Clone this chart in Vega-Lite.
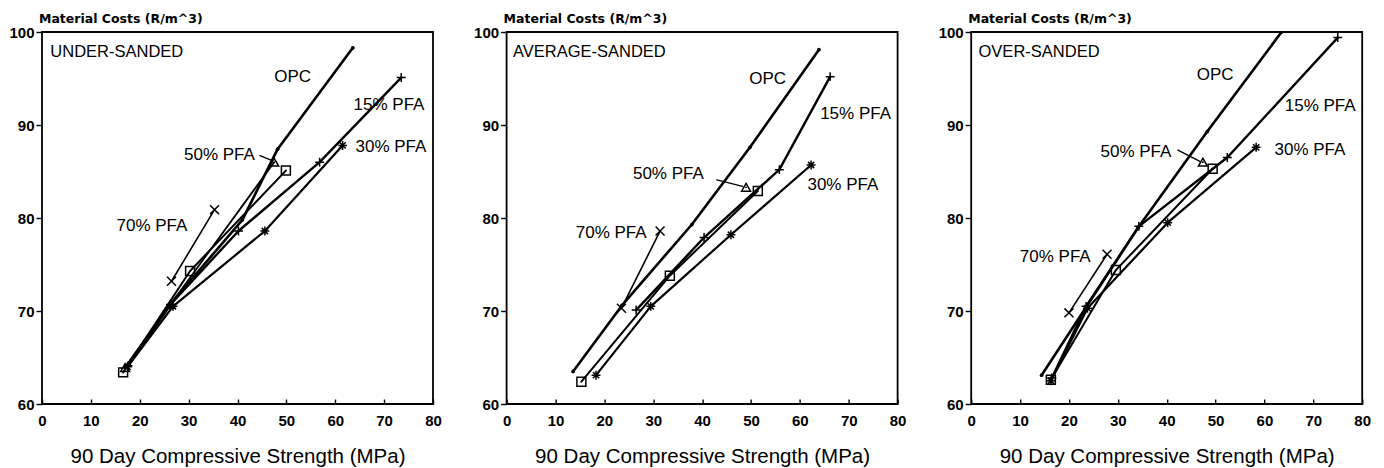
{
"$schema":"https://vega.github.io/schema/vega-lite/v6.json",
"background":"white",
"padding":{"left":8,"top":11,"right":5,"bottom":2},
"config":{
 "font":"Liberation Sans",
 "view":{"stroke":"black","strokeWidth":1.8},
 "axis":{"domain":false,"grid":false,"labelColor":"black","tickColor":"black","tickWidth":1.4,"labelFont":"Liberation Sans","labelFontWeight":"bold","labelFontSize":15,"titleColor":"black","labelOverlap":false}
},
"data":{"values":[
{"panel":"UNDER-SANDED","kind":"pt","series":"OPC","x":17.3,"y":64.1},
{"panel":"UNDER-SANDED","kind":"pt","series":"OPC","x":26.5,"y":70.9},
{"panel":"UNDER-SANDED","kind":"pt","series":"OPC","x":41.0,"y":79.8},
{"panel":"UNDER-SANDED","kind":"pt","series":"OPC","x":48.2,"y":87.4},
{"panel":"UNDER-SANDED","kind":"pt","series":"OPC","x":63.6,"y":98.3},
{"panel":"UNDER-SANDED","kind":"pt","series":"15% PFA","x":17.6,"y":64.1},
{"panel":"UNDER-SANDED","kind":"pt","series":"15% PFA","x":26.3,"y":70.7},
{"panel":"UNDER-SANDED","kind":"pt","series":"15% PFA","x":40.2,"y":78.6},
{"panel":"UNDER-SANDED","kind":"pt","series":"15% PFA","x":56.8,"y":86.0},
{"panel":"UNDER-SANDED","kind":"pt","series":"15% PFA","x":73.5,"y":95.1},
{"panel":"UNDER-SANDED","kind":"pt","series":"30% PFA","x":17.5,"y":64.0},
{"panel":"UNDER-SANDED","kind":"pt","series":"30% PFA","x":26.8,"y":70.5},
{"panel":"UNDER-SANDED","kind":"pt","series":"30% PFA","x":45.6,"y":78.6},
{"panel":"UNDER-SANDED","kind":"pt","series":"30% PFA","x":61.5,"y":87.8},
{"panel":"UNDER-SANDED","kind":"pt","series":"40% PFA","x":16.6,"y":63.4},
{"panel":"UNDER-SANDED","kind":"pt","series":"40% PFA","x":30.3,"y":74.3},
{"panel":"UNDER-SANDED","kind":"pt","series":"40% PFA","x":49.9,"y":85.1},
{"panel":"UNDER-SANDED","kind":"pt","series":"50% PFA","x":17.0,"y":63.9},
{"panel":"UNDER-SANDED","kind":"pt","series":"50% PFA","x":26.3,"y":70.7},
{"panel":"UNDER-SANDED","kind":"pt","series":"50% PFA","x":47.5,"y":86.0},
{"panel":"UNDER-SANDED","kind":"pt","series":"70% PFA","x":26.5,"y":73.2},
{"panel":"UNDER-SANDED","kind":"pt","series":"70% PFA","x":35.3,"y":80.9},
{"panel":"UNDER-SANDED","kind":"pt","series":"pointer","x":44.6,"y":86.7},
{"panel":"UNDER-SANDED","kind":"pt","series":"pointer","x":47.0,"y":86.2},
{"panel":"UNDER-SANDED","kind":"name","text":"UNDER-SANDED","x":1.7,"y":97.8},
{"panel":"UNDER-SANDED","kind":"label","text":"OPC","x":51.3,"y":95.2},
{"panel":"UNDER-SANDED","kind":"label","text":"15% PFA","x":71.0,"y":92.2},
{"panel":"UNDER-SANDED","kind":"label","text":"30% PFA","x":71.4,"y":87.6},
{"panel":"UNDER-SANDED","kind":"label","text":"50% PFA","x":36.3,"y":86.8},
{"panel":"UNDER-SANDED","kind":"label","text":"70% PFA","x":22.5,"y":79.1},

{"panel":"AVERAGE-SANDED","kind":"pt","series":"OPC","x":13.6,"y":63.5},
{"panel":"AVERAGE-SANDED","kind":"pt","series":"OPC","x":23.6,"y":70.6},
{"panel":"AVERAGE-SANDED","kind":"pt","series":"OPC","x":37.9,"y":79.3},
{"panel":"AVERAGE-SANDED","kind":"pt","series":"OPC","x":49.8,"y":87.6},
{"panel":"AVERAGE-SANDED","kind":"pt","series":"OPC","x":63.9,"y":98.1},
{"panel":"AVERAGE-SANDED","kind":"pt","series":"15% PFA","x":26.5,"y":70.1},
{"panel":"AVERAGE-SANDED","kind":"pt","series":"15% PFA","x":40.4,"y":77.9},
{"panel":"AVERAGE-SANDED","kind":"pt","series":"15% PFA","x":55.8,"y":85.2},
{"panel":"AVERAGE-SANDED","kind":"pt","series":"15% PFA","x":66.2,"y":95.2},
{"panel":"AVERAGE-SANDED","kind":"pt","series":"30% PFA","x":18.3,"y":63.1},
{"panel":"AVERAGE-SANDED","kind":"pt","series":"30% PFA","x":29.5,"y":70.5},
{"panel":"AVERAGE-SANDED","kind":"pt","series":"30% PFA","x":45.9,"y":78.2},
{"panel":"AVERAGE-SANDED","kind":"pt","series":"30% PFA","x":62.3,"y":85.7},
{"panel":"AVERAGE-SANDED","kind":"pt","series":"40% PFA","x":15.3,"y":62.4},
{"panel":"AVERAGE-SANDED","kind":"pt","series":"40% PFA","x":33.4,"y":73.8},
{"panel":"AVERAGE-SANDED","kind":"pt","series":"40% PFA","x":51.4,"y":82.9},
{"panel":"AVERAGE-SANDED","kind":"pt","series":"50% PFA","x":49.0,"y":83.3},
{"panel":"AVERAGE-SANDED","kind":"pt","series":"70% PFA","x":23.5,"y":70.3},
{"panel":"AVERAGE-SANDED","kind":"pt","series":"70% PFA","x":31.4,"y":78.6},
{"panel":"AVERAGE-SANDED","kind":"pt","series":"pointer","x":43.0,"y":84.1},
{"panel":"AVERAGE-SANDED","kind":"pt","series":"pointer","x":48.3,"y":83.4},
{"panel":"AVERAGE-SANDED","kind":"name","text":"AVERAGE-SANDED","x":1.3,"y":97.8},
{"panel":"AVERAGE-SANDED","kind":"label","text":"OPC","x":53.4,"y":95.0},
{"panel":"AVERAGE-SANDED","kind":"label","text":"15% PFA","x":71.4,"y":91.2},
{"panel":"AVERAGE-SANDED","kind":"label","text":"30% PFA","x":68.8,"y":83.5},
{"panel":"AVERAGE-SANDED","kind":"label","text":"50% PFA","x":33.1,"y":84.7},
{"panel":"AVERAGE-SANDED","kind":"label","text":"70% PFA","x":21.4,"y":78.4},

{"panel":"OVER-SANDED","kind":"pt","series":"OPC","x":14.4,"y":63.1},
{"panel":"OVER-SANDED","kind":"pt","series":"OPC","x":34.2,"y":79.0},
{"panel":"OVER-SANDED","kind":"pt","series":"OPC","x":48.3,"y":89.3},
{"panel":"OVER-SANDED","kind":"pt","series":"OPC","x":63.5,"y":100.0},
{"panel":"OVER-SANDED","kind":"pt","series":"15% PFA","x":16.5,"y":62.8},
{"panel":"OVER-SANDED","kind":"pt","series":"15% PFA","x":23.5,"y":70.5},
{"panel":"OVER-SANDED","kind":"pt","series":"15% PFA","x":34.3,"y":79.1},
{"panel":"OVER-SANDED","kind":"pt","series":"15% PFA","x":52.4,"y":86.5},
{"panel":"OVER-SANDED","kind":"pt","series":"15% PFA","x":75.0,"y":99.4},
{"panel":"OVER-SANDED","kind":"pt","series":"30% PFA","x":16.3,"y":62.5},
{"panel":"OVER-SANDED","kind":"pt","series":"30% PFA","x":23.8,"y":70.3},
{"panel":"OVER-SANDED","kind":"pt","series":"30% PFA","x":40.2,"y":79.5},
{"panel":"OVER-SANDED","kind":"pt","series":"30% PFA","x":58.3,"y":87.6},
{"panel":"OVER-SANDED","kind":"pt","series":"40% PFA","x":16.3,"y":62.6},
{"panel":"OVER-SANDED","kind":"pt","series":"40% PFA","x":29.6,"y":74.4},
{"panel":"OVER-SANDED","kind":"pt","series":"40% PFA","x":49.4,"y":85.3},
{"panel":"OVER-SANDED","kind":"pt","series":"50% PFA","x":47.4,"y":86.0},
{"panel":"OVER-SANDED","kind":"pt","series":"70% PFA","x":20.0,"y":69.8},
{"panel":"OVER-SANDED","kind":"pt","series":"70% PFA","x":27.8,"y":76.1},
{"panel":"OVER-SANDED","kind":"pt","series":"pointer","x":42.3,"y":87.3},
{"panel":"OVER-SANDED","kind":"pt","series":"pointer","x":46.8,"y":86.1},
{"panel":"OVER-SANDED","kind":"name","text":"OVER-SANDED","x":1.5,"y":97.8},
{"panel":"OVER-SANDED","kind":"label","text":"OPC","x":49.9,"y":95.4},
{"panel":"OVER-SANDED","kind":"label","text":"15% PFA","x":71.4,"y":92.0},
{"panel":"OVER-SANDED","kind":"label","text":"30% PFA","x":69.3,"y":87.3},
{"panel":"OVER-SANDED","kind":"label","text":"50% PFA","x":33.7,"y":87.1},
{"panel":"OVER-SANDED","kind":"label","text":"70% PFA","x":17.2,"y":75.8}
]},
"facet":{"column":{"field":"panel","type":"nominal","sort":["UNDER-SANDED","AVERAGE-SANDED","OVER-SANDED"],"header":{"title":null,"labels":false}}},
"spacing":73.6,
"bounds":"flush",
"resolve":{"scale":{"x":"independent","y":"independent"}},
"spec":{
 "width":391,"height":372,
 "encoding":{
  "x":{"field":"x","type":"quantitative","scale":{"domain":[0,80],"nice":false,"zero":false},
   "axis":{"values":[0,10,20,30,40,50,60,70,80],"tickSize":-5,"labelPadding":14,"labelFlush":false,
    "title":"90 Day Compressive Strength (MPa)","titleFont":"Liberation Sans","titleFontSize":20.5,"titleFontWeight":"normal","titlePadding":18}},
  "y":{"field":"y","type":"quantitative","scale":{"domain":[60,100],"nice":false,"zero":false},
   "axis":{"values":[60,70,80,90,100],"tickSize":6,"labelPadding":2,"labelFlush":false,
    "title":"Material Costs (R/m^3)","titleAngle":0,"titleAlign":"left","titleBaseline":"middle","titleX":-3.5,"titleY":-14,
    "titleFont":"DejaVu Sans","titleFontSize":12.5,"titleFontWeight":"bold"}}
 },
 "layer":[
  {"transform":[{"filter":{"field":"kind","equal":"pt"}}],
   "mark":{"type":"line","color":"black","clip":true,"strokeCap":"round","strokeJoin":"round"},
   "encoding":{"detail":{"field":"series","type":"nominal"},
    "strokeWidth":{"field":"series","type":"nominal","legend":null,
     "scale":{"domain":["OPC","15% PFA","30% PFA","40% PFA","50% PFA","70% PFA","pointer"],"range":[2.6,1.4,1.4,1.4,1.4,1.4,3.6]}}}},
  {"transform":[{"filter":"datum.kind === 'pt' && datum.series === 'OPC'"}],
   "mark":{"type":"point","filled":true,"color":"black","size":14,"opacity":1,"clip":true}},
  {"transform":[{"filter":"datum.kind === 'pt' && datum.series !== 'OPC' && datum.series !== 'pointer'"}],
   "mark":{"type":"point","filled":false,"color":"black","strokeWidth":1.5,"opacity":1},
   "encoding":{
    "shape":{"field":"series","type":"nominal","legend":null,
     "scale":{"domain":["15% PFA","30% PFA","40% PFA","50% PFA","70% PFA"],
      "range":["M-1,0H1M0,-1V1","M-1,0H1M0,-1V1M-0.7,-0.7L0.7,0.7M-0.7,0.7L0.7,-0.7","square","triangle-up","M-1,-1L1,1M-1,1L1,-1"]}},
    "size":{"field":"series","type":"nominal","legend":null,
     "scale":{"domain":["15% PFA","30% PFA","40% PFA","50% PFA","70% PFA"],"range":[80,80,45,70,60]}}}},
  {"transform":[{"filter":{"field":"kind","equal":"name"}}],
   "mark":{"type":"text","align":"left","baseline":"middle","fontSize":16.5,"color":"black","font":"Liberation Sans"},
   "encoding":{"text":{"field":"text","type":"nominal"}}},
  {"transform":[{"filter":{"field":"kind","equal":"label"}}],
   "mark":{"type":"text","align":"center","baseline":"middle","fontSize":17,"color":"black","font":"Liberation Sans"},
   "encoding":{"text":{"field":"text","type":"nominal"}}}
 ]
}
}
